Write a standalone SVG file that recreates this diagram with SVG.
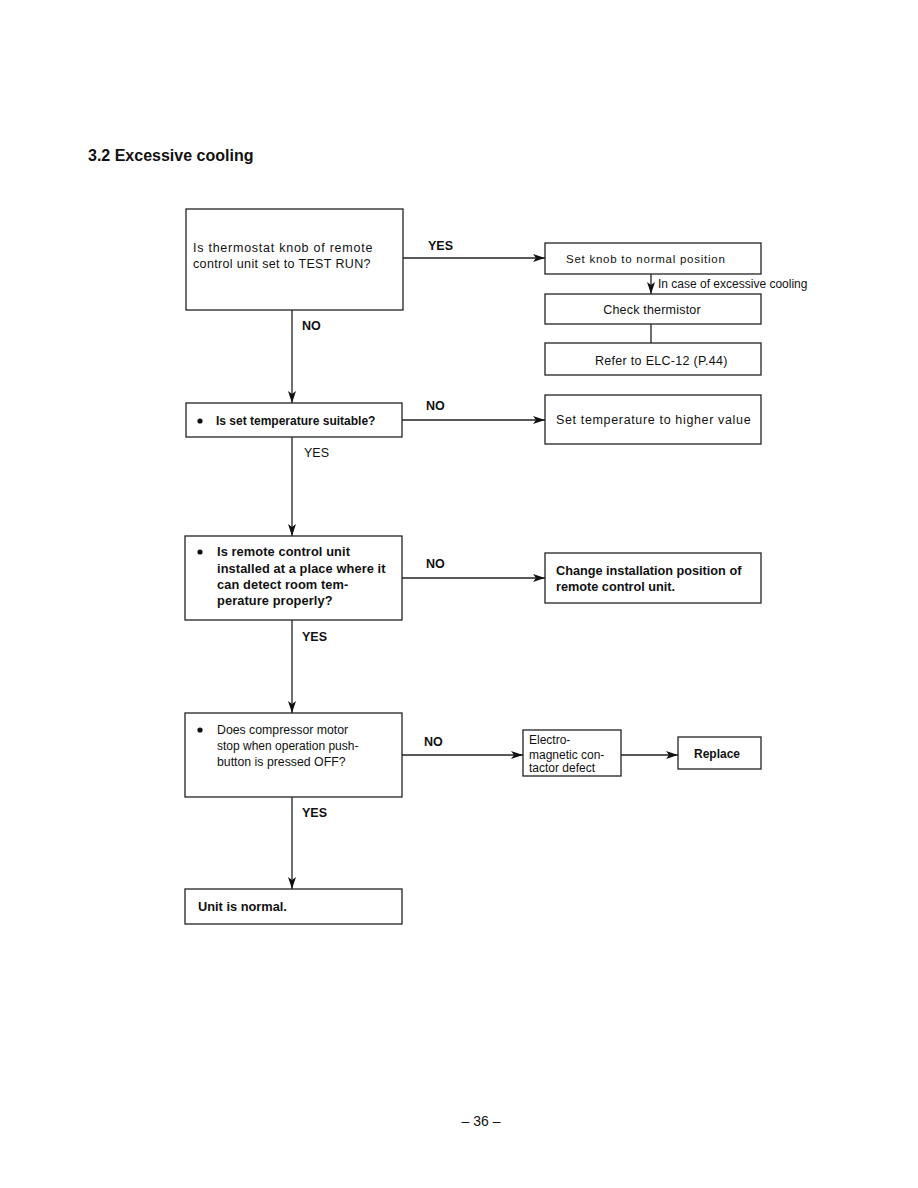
<svg xmlns="http://www.w3.org/2000/svg" width="918" height="1188" viewBox="0 0 918 1188">
<style>
.box{fill:#fff;stroke:#222;stroke-width:1.3}
.ln{stroke:#222;stroke-width:1.3;fill:none}
text{font-family:"Liberation Sans",Arial,sans-serif;fill:#111;font-size:12px}
.b{font-weight:bold}
.lbl{font-size:12.5px;font-weight:bold}
.wide{letter-spacing:0.6px}
</style>
<defs>
<marker id="ah" viewBox="0 0 12 8" refX="12" refY="4" markerWidth="12" markerHeight="8" markerUnits="userSpaceOnUse" orient="auto">
<path d="M0,0 L12,4 L0,8 L3,4 Z" fill="#111"/>
</marker>
</defs>
<rect width="918" height="1188" fill="#fff"/>
<text x="88" y="161" class="b" style="font-size:16px">3.2  Excessive cooling</text>

<g id="connectors">
<line class="ln" x1="403" y1="258" x2="545" y2="258" marker-end="url(#ah)"/>
<line class="ln" x1="651" y1="274" x2="651" y2="294" marker-end="url(#ah)"/>
<line class="ln" x1="651" y1="324" x2="651" y2="343"/>
<line class="ln" x1="292" y1="310" x2="292" y2="403" marker-end="url(#ah)"/>
<line class="ln" x1="402" y1="420" x2="545" y2="420" marker-end="url(#ah)"/>
<line class="ln" x1="292" y1="437" x2="292" y2="536" marker-end="url(#ah)"/>
<line class="ln" x1="402" y1="578" x2="545" y2="578" marker-end="url(#ah)"/>
<line class="ln" x1="292" y1="620" x2="292" y2="713" marker-end="url(#ah)"/>
<line class="ln" x1="402" y1="755" x2="523" y2="755" marker-end="url(#ah)"/>
<line class="ln" x1="621" y1="755" x2="678" y2="755" marker-end="url(#ah)"/>
<line class="ln" x1="292" y1="797" x2="292" y2="889" marker-end="url(#ah)"/>
<text x="428" y="250" class="lbl">YES</text>
<text x="658" y="288">In case of excessive cooling</text>
<text x="302" y="330" class="lbl">NO</text>
<text x="426" y="410" class="lbl">NO</text>
<text x="304" y="457" style="font-size:12.5px">YES</text>
<text x="426" y="568" class="lbl">NO</text>
<text x="302" y="641" class="lbl">YES</text>
<text x="424" y="746" class="lbl">NO</text>
<text x="302" y="817" class="lbl">YES</text>
</g>

<g id="q1">
<rect class="box" x="186" y="209" width="217" height="101"/>
<text x="193" y="252" style="font-size:12.5px;letter-spacing:0.75px">Is thermostat knob of remote</text>
<text x="193" y="268" style="font-size:12.5px;letter-spacing:0.35px">control unit set to TEST RUN?</text>
</g>
<g id="setknob">
<rect class="box" x="545" y="243" width="216" height="31"/>
<text x="566" y="263" style="font-size:11.5px;letter-spacing:0.75px">Set knob to normal position</text>
</g>
<g id="thermistor">
<rect class="box" x="545" y="294" width="216" height="30"/>
<text x="652" y="314" text-anchor="middle" style="font-size:12.5px;letter-spacing:0.2px">Check thermistor</text>
</g>
<g id="refer">
<rect class="box" x="545" y="343" width="216" height="32"/>
<text x="595" y="365" style="font-size:12.5px;letter-spacing:0.3px">Refer to ELC-12 (P.44)</text>
</g>
<g id="q2">
<rect class="box" x="186" y="403" width="216" height="34"/>
<circle cx="200" cy="421" r="2.6" fill="#111"/>
<text x="216" y="425" class="b">Is set temperature suitable?</text>
</g>
<g id="settemp">
<rect class="box" x="545" y="395" width="216" height="49"/>
<text x="556" y="424" style="font-size:12.5px;letter-spacing:0.65px">Set temperature to higher value</text>
</g>
<g id="q3">
<rect class="box" x="185" y="536" width="217" height="84"/>
<circle cx="200" cy="552" r="2.6" fill="#111"/>
<text x="217" y="556" class="b" style="font-size:12.8px;letter-spacing:0.1px">Is remote control unit</text>
<text x="217" y="573" class="b" style="font-size:12.8px;letter-spacing:0.1px">installed at a place where it</text>
<text x="217" y="589" class="b" style="font-size:12.8px;letter-spacing:0.1px">can detect room tem-</text>
<text x="217" y="605" class="b" style="font-size:12.8px;letter-spacing:0.1px">perature properly?</text>
</g>
<g id="change">
<rect class="box" x="545" y="553" width="216" height="50"/>
<text x="556" y="575" class="b" style="font-size:12.7px">Change installation position of</text>
<text x="556" y="591" class="b" style="font-size:12.7px">remote control unit.</text>
</g>
<g id="q4">
<rect class="box" x="185" y="713" width="217" height="84"/>
<circle cx="200" cy="730" r="2.6" fill="#111"/>
<text x="217" y="734" style="font-size:12.3px">Does compressor motor</text>
<text x="217" y="750" style="font-size:12px">stop when operation push-</text>
<text x="217" y="766" style="font-size:12.3px">button is pressed OFF?</text>
</g>
<g id="contactor">
<rect class="box" x="523" y="730" width="98" height="46"/>
<text x="529" y="744">Electro-</text>
<text x="529" y="759">magnetic con-</text>
<text x="529" y="772">tactor defect</text>
</g>
<g id="replace">
<rect class="box" x="678" y="737" width="83" height="32"/>
<text x="694" y="758" class="b">Replace</text>
</g>
<g id="normal">
<rect class="box" x="185" y="889" width="217" height="35"/>
<text x="198" y="911" class="b" style="font-size:12.8px">Unit is normal.</text>
</g>
<text x="481" y="1126" text-anchor="middle" style="font-size:14px">– 36 –</text>
</svg>
